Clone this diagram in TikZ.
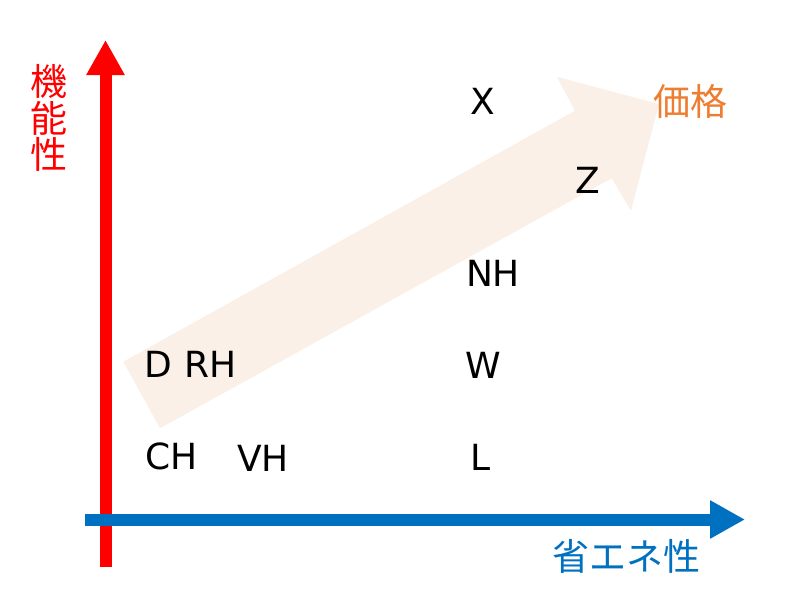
\documentclass[tikz,border=0pt]{standalone}
\usepackage{fontspec}
\setmainfont{DejaVu Sans}
\newfontfamily\jpfont{Noto Sans CJK JP}
\usepackage{xcolor}
\usetikzlibrary{arrows.meta,positioning}
\definecolor{funcred}{HTML}{FF0000}
\definecolor{ecoblue}{HTML}{0070C0}
\definecolor{priceorange}{HTML}{ED7D31}
\definecolor{pricepale}{HTML}{FBF0E7}

\begin{document}
\begin{tikzpicture}[x=1pt,y=-1pt,axis/.style={line width=12pt,-{Triangle[length=35pt,width=36pt]}},model/.style={inner sep=0pt,font=\fontsize{36}{40}\selectfont},jp label/.style={inner sep=0pt,align=center,font=\jpfont\fontsize{37}{36.7}\selectfont}]%
\useasboundingbox (0,0) rectangle (785,608);
% price trend (big pale arrow)
\fill[pricepale] (123.3,361.7) -- (575,110.7) -- (556.7,76.7) -- (659,104) -- (631,210.7) -- (611.7,178.3) -- (160,428.3) -- cycle;
\begin{scope}
\coordinate (yfoot) at (105.5,567);
\coordinate (ytop) at (105.5,40);
\coordinate (xfoot) at (85,519.5);
\coordinate (xtip) at (745,519.5);
\draw[axis,funcred] (yfoot) -- (ytop);
\draw[axis,ecoblue] (xfoot) -- (xtip);
\end{scope}
\begin{scope}[every node/.style={model}]
\node (X) at (483,101) {X};
\node (Z) at (588,180) {Z};
\node (NH) at (493,273) {NH};
\node (W) at (483,365) {W};
\node (L) at (481,457) {L};
\node (DRH) at (190.5,364) {D RH};
\node (CH) at (171.5,456) {CH};
\node (VH) at (263,458) {VH};
\end{scope}
\node[jp label,text=funcred] (func) at (49,118) {機\\能\\性};
\node[jp label,text=priceorange] (price) at (690.5,101.5) {価格};
\node[jp label,text=ecoblue] (eco) at (626,556) {省エネ性};
\end{tikzpicture}
\end{document}
